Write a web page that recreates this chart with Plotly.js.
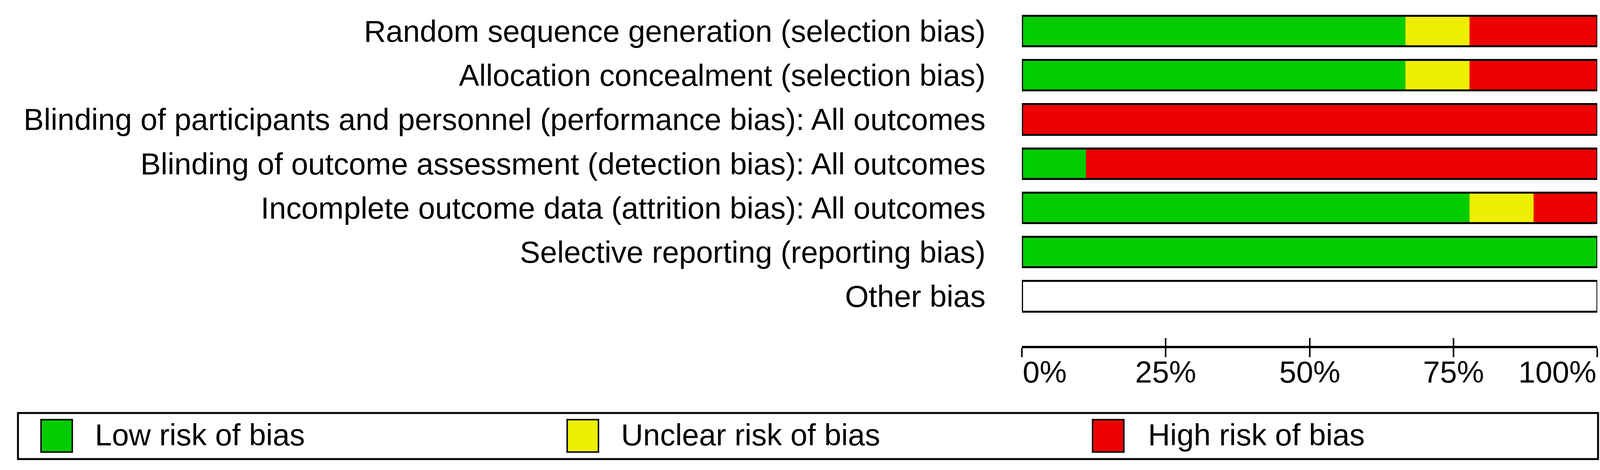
<!DOCTYPE html>
<html>
<head>
<meta charset="utf-8">
<script src="https://cdn.plot.ly/plotly-3.0.1.min.js"></script>
<style>
  html, body { margin: 0; padding: 0; background: #ffffff; }
  #chart { width: 4120px; height: 1204px; }
</style>
</head>
<body>
<div id="chart"></div>
<script>
// ---------------- data ----------------
const categories = [
  'Random sequence generation (selection bias)',
  'Allocation concealment (selection bias)',
  'Blinding of participants and personnel (performance bias): All outcomes',
  'Blinding of outcome assessment (detection bias): All outcomes',
  'Incomplete outcome data (attrition bias): All outcomes',
  'Selective reporting (reporting bias)',
  'Other bias'
];
const lowRisk     = [66.7, 66.7,   0,  11.1, 77.8, 100, 0];
const unclearRisk = [11.1, 11.1,   0,   0,   11.1,   0, 0];
const highRisk    = [22.2, 22.2, 100,  88.9, 11.1,   0, 0];
const seriesNames  = ['Low risk of bias', 'Unclear risk of bias', 'High risk of bias'];
const seriesColors = ['#00CC00', '#EEEE00', '#EE0000'];
const tickVals   = [0, 25, 50, 75, 100];
const tickLabels = ['0%', '25%', '50%', '75%', '100%'];

// ---------------- style ----------------
const FONT = '"Liberation Sans", Arial, Helvetica, sans-serif';
const FS = 78;
const BARW = 0.69;
const seriesValues = [lowRisk, unclearRisk, highRisk];

const traces = seriesValues.map((vals, i) => ({
  type: 'bar',
  orientation: 'h',
  name: seriesNames[i],
  y: categories,
  x: vals,
  width: BARW,
  marker: { color: seriesColors[i], line: { width: 0 } },
  cliponaxis: false,
  showlegend: false,
  hoverinfo: 'x+y',
  xaxis: 'x', yaxis: 'y'
}));

// outline of each row spanning the full scale
traces.push({
  type: 'bar',
  orientation: 'h',
  y: categories,
  x: categories.map(() => tickVals[tickVals.length - 1]),
  width: BARW,
  marker: { color: 'rgba(0,0,0,0)', line: { color: '#000000', width: 5 } },
  cliponaxis: false,
  showlegend: false,
  hoverinfo: 'skip',
  xaxis: 'x2', yaxis: 'y'
});

// tick label annotations (first left-aligned, last right-aligned)
const annotations = tickVals.map((v, i) => ({
  xref: 'x', yref: 'paper',
  x: v, y: 1 - 953 / 1204,
  text: tickLabels[i],
  showarrow: false,
  xanchor: i === 0 ? 'left' : (i === tickVals.length - 1 ? 'right' : 'center'),
  yanchor: 'middle',
  font: { family: FONT, size: FS, color: '#000000' }
}));

// legend (manual, large swatches)
const W = 4120, H = 1204;
const legSwatchX = [105, 1452, 2797];
const legTextX   = [241, 1588, 2937];
const shapes = [{
  type: 'rect', xref: 'paper', yref: 'paper',
  x0: 46 / W, x1: 4091 / W, y0: 1 - 1176 / H, y1: 1 - 1058 / H,
  line: { color: '#000000', width: 5 }, fillcolor: 'rgba(0,0,0,0)'
}];
seriesNames.forEach((nm, i) => {
  shapes.push({
    type: 'rect', xref: 'paper', yref: 'paper',
    x0: legSwatchX[i] / W, x1: (legSwatchX[i] + 80) / W,
    y0: 1 - 1158 / H, y1: 1 - 1075 / H,
    line: { color: '#111111', width: 4 }, fillcolor: seriesColors[i]
  });
  annotations.push({
    xref: 'paper', yref: 'paper',
    x: legTextX[i] / W, y: 1 - 1114 / H,
    text: nm, showarrow: false,
    xanchor: 'left', yanchor: 'middle',
    font: { family: FONT, size: FS, color: '#000000' }
  });
});

const layout = {
  width: W, height: H,
  margin: { l: 0, r: 0, t: 0, b: 0, pad: 0 },
  paper_bgcolor: '#ffffff',
  plot_bgcolor: 'rgba(0,0,0,0)',
  barmode: 'stack',
  showlegend: false,
  font: { family: FONT, size: FS, color: '#000000' },
  xaxis: {
    domain: [2616 / W, 4089 / W],
    range: [0, 100],
    fixedrange: true,
    showgrid: false, zeroline: false,
    showline: true, linecolor: '#000000', linewidth: 6,
    tickvals: tickVals, ticks: 'outside', ticklen: 23, tickwidth: 4, tickcolor: '#000000',
    showticklabels: false,
    anchor: 'y'
  },
  xaxis2: {
    overlaying: 'x',
    anchor: 'y',
    side: 'bottom',
    range: [0, 100],
    fixedrange: true,
    showgrid: false, zeroline: false, showline: false,
    tickvals: tickVals, ticks: 'inside', ticklen: 20, tickwidth: 4, tickcolor: '#000000',
    showticklabels: false
  },
  yaxis: {
    domain: [1 - 886 / H, 1 - 11.5 / H],
    type: 'category',
    range: [7.121, -0.6],
    fixedrange: true,
    showgrid: false, zeroline: false, showline: false,
    ticks: '',
    ticklabelstandoff: 92,
    tickfont: { family: FONT, size: FS, color: '#000000' },
    anchor: 'x'
  },
  shapes: shapes,
  annotations: annotations
};

Plotly.newPlot('chart', traces, layout, { displayModeBar: false, staticPlot: true });
</script>
</body>
</html>
